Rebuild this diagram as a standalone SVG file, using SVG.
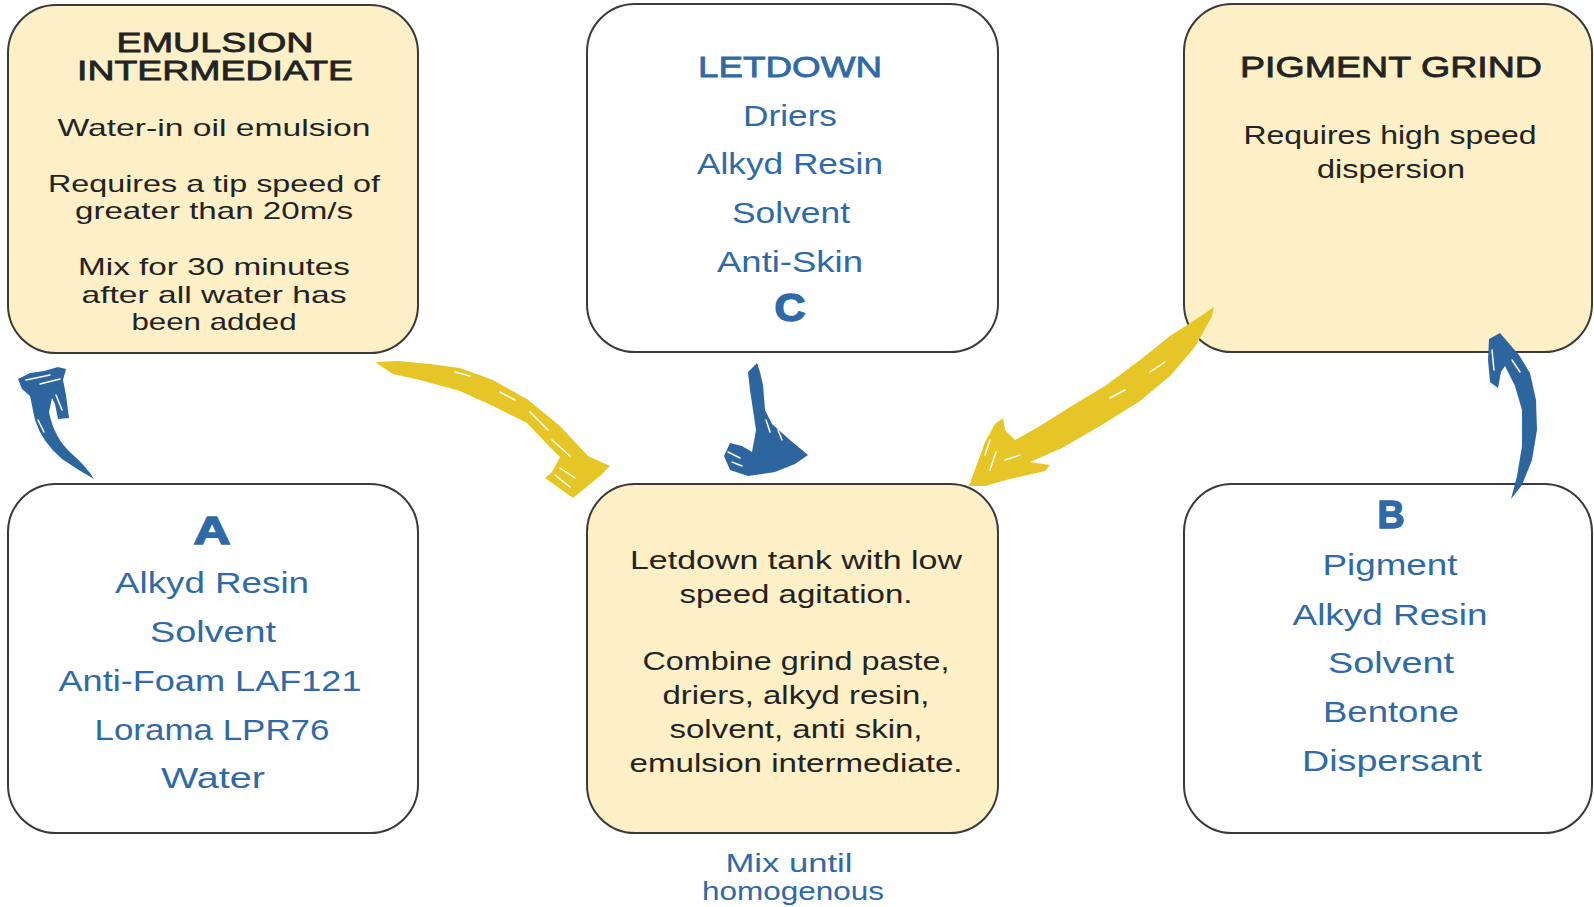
<svg xmlns="http://www.w3.org/2000/svg" width="1594" height="907" viewBox="0 0 1594 907">
<style>
.box{stroke:#3a3a3a;stroke-width:2}
.cream{fill:#FDEFC6}
.white{fill:#FFFFFF}
text{font-family:"Liberation Sans",Arial,sans-serif;text-anchor:middle}
.dk{fill:#232323}
.bl{fill:#2F6AA6}
.hd{stroke-width:0.8}
.dk.hd{stroke:#232323}
.bl.hd{stroke:#2F6AA6}
.big{font-weight:bold;font-size:38px;stroke:#2F6AA6;stroke-width:1.5}
.yel{fill:#E6C626}
.blu{fill:#2D669F}
.streak{stroke:#fff;stroke-width:1.5;fill:none;stroke-linecap:round}
</style>
<rect width="1594" height="907" fill="#fff"/>

<g id="node-emulsion">
  <rect class="box cream" x="8" y="5" width="410" height="348" rx="48"/>
  <text class="dk hd" x="215" y="52" font-size="28" textLength="197" lengthAdjust="spacingAndGlyphs">EMULSION</text>
  <text class="dk hd" x="215" y="80" font-size="28" textLength="276" lengthAdjust="spacingAndGlyphs">INTERMEDIATE</text>
  <text class="dk" x="214" y="136" font-size="24" textLength="313" lengthAdjust="spacingAndGlyphs">Water-in oil emulsion</text>
  <text class="dk" x="214" y="192" font-size="24" textLength="332" lengthAdjust="spacingAndGlyphs">Requires a tip speed of</text>
  <text class="dk" x="214" y="219" font-size="24" textLength="278" lengthAdjust="spacingAndGlyphs">greater than 20m/s</text>
  <text class="dk" x="214" y="275" font-size="24" textLength="272" lengthAdjust="spacingAndGlyphs">Mix for 30 minutes</text>
  <text class="dk" x="214" y="303" font-size="24" textLength="265" lengthAdjust="spacingAndGlyphs">after all water has</text>
  <text class="dk" x="214" y="330" font-size="24" textLength="165" lengthAdjust="spacingAndGlyphs">been added</text>
</g>

<g id="node-letdown">
  <rect class="box white" x="587" y="4" width="411" height="348" rx="48"/>
  <text class="bl hd" x="790" y="77" font-size="30" textLength="184" lengthAdjust="spacingAndGlyphs">LETDOWN</text>
  <text class="bl" x="790" y="126" font-size="30" textLength="94" lengthAdjust="spacingAndGlyphs">Driers</text>
  <text class="bl" x="790" y="174" font-size="30" textLength="186" lengthAdjust="spacingAndGlyphs">Alkyd Resin</text>
  <text class="bl" x="791" y="223" font-size="30" textLength="118" lengthAdjust="spacingAndGlyphs">Solvent</text>
  <text class="bl" x="790" y="272" font-size="30" textLength="146" lengthAdjust="spacingAndGlyphs">Anti-Skin</text>
  <text class="bl big" x="790" y="321" textLength="31" lengthAdjust="spacingAndGlyphs">C</text>
</g>

<g id="node-pigment">
  <rect class="box cream" x="1184" y="4" width="408" height="348" rx="48"/>
  <text class="dk hd" x="1391" y="77" font-size="30" textLength="302" lengthAdjust="spacingAndGlyphs">PIGMENT GRIND</text>
  <text class="dk" x="1390" y="144" font-size="26" textLength="293" lengthAdjust="spacingAndGlyphs">Requires high speed</text>
  <text class="dk" x="1391" y="178" font-size="26" textLength="148" lengthAdjust="spacingAndGlyphs">dispersion</text>
</g>

<g id="node-a">
  <rect class="box white" x="8" y="484" width="410" height="349" rx="48"/>
  <text class="bl big" x="212" y="544" textLength="37" lengthAdjust="spacingAndGlyphs">A</text>
  <text class="bl" x="212" y="593" font-size="30" textLength="194" lengthAdjust="spacingAndGlyphs">Alkyd Resin</text>
  <text class="bl" x="213" y="642" font-size="30" textLength="126" lengthAdjust="spacingAndGlyphs">Solvent</text>
  <text class="bl" x="210" y="691" font-size="30" textLength="303" lengthAdjust="spacingAndGlyphs">Anti-Foam LAF121</text>
  <text class="bl" x="212" y="740" font-size="30" textLength="235" lengthAdjust="spacingAndGlyphs">Lorama LPR76</text>
  <text class="bl" x="213" y="788" font-size="30" textLength="104" lengthAdjust="spacingAndGlyphs">Water</text>
</g>

<g id="node-center">
  <rect class="box cream" x="587" y="484" width="411" height="349" rx="48"/>
  <text class="dk" x="796" y="569" font-size="26" textLength="332" lengthAdjust="spacingAndGlyphs">Letdown tank with low</text>
  <text class="dk" x="796" y="603" font-size="26" textLength="233" lengthAdjust="spacingAndGlyphs">speed agitation.</text>
  <text class="dk" x="796" y="670" font-size="26" textLength="307" lengthAdjust="spacingAndGlyphs">Combine grind paste,</text>
  <text class="dk" x="796" y="704" font-size="26" textLength="267" lengthAdjust="spacingAndGlyphs">driers, alkyd resin,</text>
  <text class="dk" x="796" y="738" font-size="26" textLength="253" lengthAdjust="spacingAndGlyphs">solvent, anti skin,</text>
  <text class="dk" x="796" y="772" font-size="26" textLength="333" lengthAdjust="spacingAndGlyphs">emulsion intermediate.</text>
</g>

<g id="label-mix">
  <text class="bl" x="789" y="872" font-size="26" textLength="127" lengthAdjust="spacingAndGlyphs">Mix until</text>
  <text class="bl" x="793" y="900" font-size="26" textLength="182" lengthAdjust="spacingAndGlyphs">homogenous</text>
</g>

<g id="node-b">
  <rect class="box white" x="1184" y="484" width="408" height="349" rx="48"/>
  <text class="bl big" x="1391" y="528" textLength="27" lengthAdjust="spacingAndGlyphs">B</text>
  <text class="bl" x="1390" y="575" font-size="30" textLength="135" lengthAdjust="spacingAndGlyphs">Pigment</text>
  <text class="bl" x="1390" y="625" font-size="30" textLength="195" lengthAdjust="spacingAndGlyphs">Alkyd Resin</text>
  <text class="bl" x="1391" y="673" font-size="30" textLength="126" lengthAdjust="spacingAndGlyphs">Solvent</text>
  <text class="bl" x="1391" y="722" font-size="30" textLength="136" lengthAdjust="spacingAndGlyphs">Bentone</text>
  <text class="bl" x="1392" y="771" font-size="30" textLength="180" lengthAdjust="spacingAndGlyphs">Dispersant</text>
</g>

<g id="connectors">
  <g id="arrow-a">
    <path class="blu" d="M18 379 L30 373 L44 371 L58 367 L66 369 L63 380 L66 395 L69 418 L58 419 L55 404 L52 398 L49 412 Q54 438 72 454 Q86 466 94 479 Q78 470 62 459 Q42 442 35 420 L30 396 L22 389 Z"/>
    <path class="streak" d="M26 380 L50 375 M40 384 L60 379 M56 395 L62 410 M38 420 L44 432"/>
  </g>
  <g id="arrow-emul">
    <path class="yel" d="M375 362 L398 361 L430 364 L460 368 L493 380 L527 399 L560 426 L588 456 L610 466 L600 476 L573 498 L545 478 L552 472 L560 457 L547 444 L527 423 L493 406 L460 391 L420 380 L393 374 Z"/>
    <path class="streak" d="M455 372 L470 376 M500 392 L515 400 M530 412 L548 430 M552 440 L570 456 M560 468 L575 478 M555 475 L570 487"/>
  </g>
  <g id="arrow-letdown">
    <path class="blu" d="M748 372 L757 363 L760 372 L763 385 L765 410 L772 424 L790 440 L808 455 L795 464 L775 472 L748 476 L730 470 L724 456 L730 443 L742 446 L752 452 L756 430 L753 410 L750 390 Z"/>
    <path class="streak" d="M766 420 L770 432 M778 430 L782 440 M728 452 L740 458 M732 462 L742 466"/>
  </g>
  <g id="arrow-pigment">
    <path class="yel" d="M1214 307 L1195 320 L1170 336 L1140 360 L1105 386 L1070 407 L1040 426 L1015 440 L1005 430 L1003 418 L995 424 L985 442 L977 464 L969 486 L985 486 L1010 479 L1045 471 L1050 465 L1030 462 L1062 448 L1100 426 L1140 401 L1170 376 L1195 347 L1212 316 Z"/>
    <path class="streak" d="M1150 372 L1165 362 M1110 398 L1125 390 M990 440 L985 455 M996 452 L990 470 M1005 460 L1020 455"/>
  </g>
  <g id="arrow-b">
    <path class="blu" d="M1489 339 L1500 333 L1506 340 L1519 355 L1530 373 L1536 400 L1537 430 L1532 460 L1522 485 L1511 499 L1517 476 L1522 446 L1522 410 L1515 386 L1505 366 L1501 372 L1498 388 L1490 382 L1488 360 Z"/>
    <path class="streak" d="M1492 350 L1494 370 M1512 360 L1520 372"/>
  </g>
</g>
</svg>
